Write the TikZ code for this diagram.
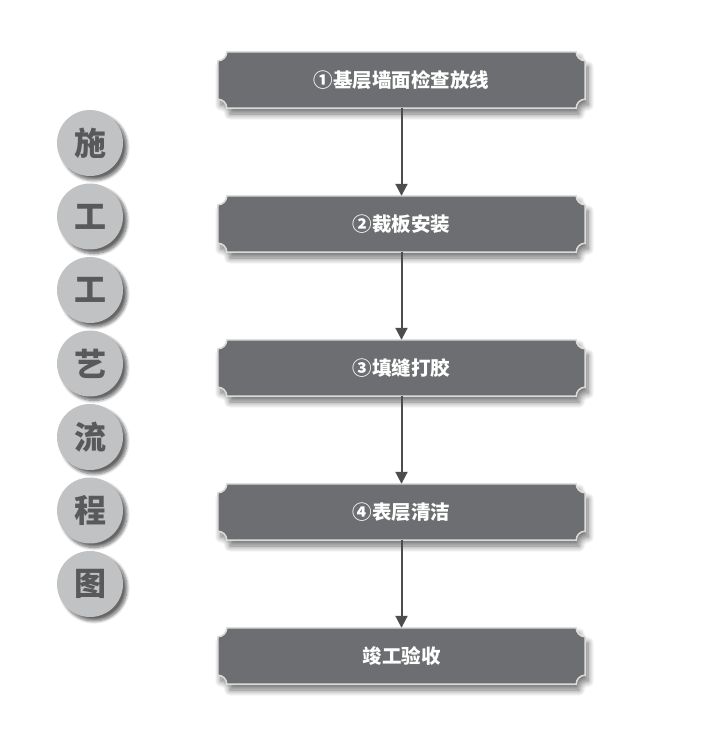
\documentclass[tikz,border=0pt]{standalone}
\usepackage{fontspec}
\newfontfamily\cjk{Noto Sans CJK SC}
\usetikzlibrary{arrows.meta,calc,shadows.blur,backgrounds}
\definecolor{grisCaja}{HTML}{6D6E71}
\definecolor{bordeCaja}{HTML}{DCDCDC}
\definecolor{grisCirculo}{HTML}{C1C2C4}
\definecolor{grisLetra}{HTML}{58595B}
\definecolor{grisFlecha}{HTML}{4D4D4F}

\begin{document}
\begin{tikzpicture}[x=1pt,y=1pt,>={Triangle[length=12pt,width=12pt]},
  paso/.style={minimum width=367pt,minimum height=56pt,inner sep=0pt,
    text=white,font=\cjk\bfseries\fontsize{19.5}{19.5}\selectfont},
  letra/.style={circle,minimum size=66pt,inner sep=0pt,fill=grisCirculo,
    text=grisLetra,font=\cjk\bfseries\fontsize{32}{32}\selectfont,
    blur shadow={shadow xshift=4pt,shadow yshift=-4pt,shadow blur radius=3pt,
      shadow blur steps=10,shadow opacity=60}}]
  \useasboundingbox (0,0) rectangle (720,735);
  % title down the left
  \foreach \t [count=\i] in {施,工,工,艺,流,程,图}
    \node[letra] (c\i) at (90,{665.5-73.5*\i}) {\t};
  % steps
  \foreach \t [count=\i] in {①基层墙面检查放线,②裁板安装,③填缝打胶,④表层清洁,竣工验收}
    \node[paso] (p\i) at (401.5,{799-144*\i}) {\t};
  \begin{scope}[on background layer]
    \foreach \i in {1,...,5}
      \fill[grisCaja,draw=bordeCaja,line width=1.5pt,
        blur shadow={shadow xshift=3pt,shadow yshift=-6pt,shadow blur radius=6pt,
          shadow blur steps=12,shadow opacity=55}]
        ($(p\i.south west)+(9,0)$) -- ($(p\i.south east)+(-9,0)$)
        arc[start angle=180,end angle=90,radius=9pt]
        -- ($(p\i.north east)+(0,-9)$) arc[start angle=270,end angle=180,radius=9pt]
        -- ($(p\i.north west)+(9,0)$) arc[start angle=0,end angle=-90,radius=9pt]
        -- ($(p\i.south west)+(0,9)$) arc[start angle=90,end angle=0,radius=9pt]
        -- cycle;
  \end{scope}
  \foreach \i [remember=\i as \j (initially 1)] in {2,...,5}
    \draw[->,grisFlecha,line width=2pt] (p\j) -- (p\i);
\end{tikzpicture}
\end{document}
